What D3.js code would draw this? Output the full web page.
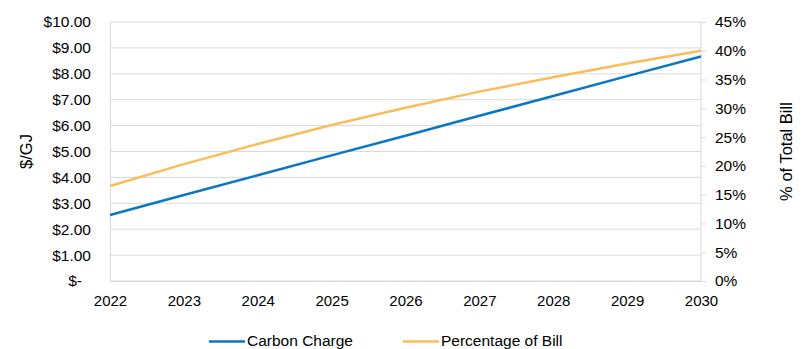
<!DOCTYPE html>
<html>
<head>
<meta charset="utf-8">
<script src="https://cdn.jsdelivr.net/npm/d3@7"></script>
<style>
  body { margin: 0; background: #fff; }
  text { font-family: Arial, "Liberation Sans", sans-serif; fill: #000; }
</style>
</head>
<body>
<div id="chart"></div>
<script>
const years = [2022, 2023, 2024, 2025, 2026, 2027, 2028, 2029, 2030];
const carbonCharge = [2.55, 3.32, 4.08, 4.85, 5.61, 6.38, 7.14, 7.91, 8.67];
const pctOfBill = [0.165, 0.203, 0.238, 0.271, 0.301, 0.329, 0.354, 0.378, 0.400];
const leftTicks = [0, 1, 2, 3, 4, 5, 6, 7, 8, 9, 10];
const rightTicks = [0, 0.05, 0.1, 0.15, 0.2, 0.25, 0.3, 0.35, 0.4, 0.45];

const width = 804;
const height = 349;
const margin = { top: 22, right: 103, bottom: 68, left: 110 };

const svg = d3.select("#chart")
  .append("svg")
  .attr("width", width)
  .attr("height", height);

const x = d3.scalePoint()
  .domain(years)
  .range([margin.left, width - margin.right]);

const yLeft = d3.scaleLinear()
  .domain([0, 10])
  .range([height - margin.bottom, margin.top]);

const yRight = d3.scaleLinear()
  .domain([0, 0.45])
  .range([height - margin.bottom, margin.top]);

// gridlines
svg.append("g")
  .selectAll("line")
  .data(leftTicks)
  .enter()
  .append("line")
  .attr("x1", margin.left)
  .attr("x2", width - margin.right)
  .attr("y1", d => yLeft(d))
  .attr("y2", d => yLeft(d))
  .style("stroke", "#d9d9d9")
  .style("stroke-width", 1);

// left axis
const leftAxis = svg.append("g")
  .attr("transform", `translate(${margin.left},0)`)
  .call(d3.axisLeft(yLeft).tickValues(leftTicks).tickSize(0).tickPadding(19)
    .tickFormat(d => d === 0 ? "$-" : "$" + d3.format(".2f")(d)));
leftAxis.select(".domain").style("stroke", "#d9d9d9");
leftAxis.selectAll(".tick text")
  .style("font-size", "15.5px")
  .attr("dx", d => d === 0 ? -9 : 0);

// right axis
const rightAxis = svg.append("g")
  .attr("transform", `translate(${width - margin.right},0)`)
  .call(d3.axisRight(yRight).tickValues(rightTicks).tickSize(5).tickPadding(9)
    .tickFormat(d3.format(".0%")));
rightAxis.select(".domain").style("stroke", "#d9d9d9").attr("d", `M0,${yRight(0)}V${yRight(0.45)}`);
rightAxis.selectAll(".tick line").style("stroke", "#d9d9d9");
rightAxis.selectAll(".tick text").style("font-size", "15.5px");

// bottom axis
const bottomAxis = svg.append("g")
  .attr("transform", `translate(0,${height - margin.bottom})`)
  .call(d3.axisBottom(x).tickSize(0).tickPadding(14));
bottomAxis.select(".domain").style("stroke", "#d9d9d9");
bottomAxis.selectAll(".tick text").style("font-size", "15px");

// axis titles
svg.append("text")
  .attr("transform", `translate(32,${(margin.top + height - margin.bottom) / 2}) rotate(-90)`)
  .attr("text-anchor", "middle")
  .style("font-size", "16.5px")
  .text("$/GJ");

svg.append("text")
  .attr("transform", `translate(792,${(margin.top + height - margin.bottom) / 2}) rotate(-90)`)
  .attr("text-anchor", "middle")
  .style("font-size", "16.5px")
  .text("% of Total Bill");

// lines
const carbonLine = d3.line()
  .x((d, i) => x(years[i]))
  .y(d => yLeft(d));

const pctLine = d3.line()
  .x((d, i) => x(years[i]))
  .y(d => yRight(d));

svg.append("path")
  .datum(pctOfBill)
  .attr("d", pctLine)
  .style("fill", "none")
  .style("stroke", "#f9bd5a")
  .style("stroke-width", 2.5);

svg.append("path")
  .datum(carbonCharge)
  .attr("d", carbonLine)
  .style("fill", "none")
  .style("stroke", "#0a77c2")
  .style("stroke-width", 2.5);

// legend
const legendItems = [
  { label: "Carbon Charge", color: "#0a77c2", x: 209 },
  { label: "Percentage of Bill", color: "#f9bd5a", x: 403 }
];

const legend = svg.append("g");
legendItems.forEach(item => {
  legend.append("line")
    .attr("x1", item.x)
    .attr("x2", item.x + 36)
    .attr("y1", 341.5)
    .attr("y2", 341.5)
    .style("stroke", item.color)
    .style("stroke-width", 2.5);
  legend.append("text")
    .attr("x", item.x + 38)
    .attr("y", 345.5)
    .style("font-size", "15.5px")
    .text(item.label);
});
</script>
</body>
</html>
